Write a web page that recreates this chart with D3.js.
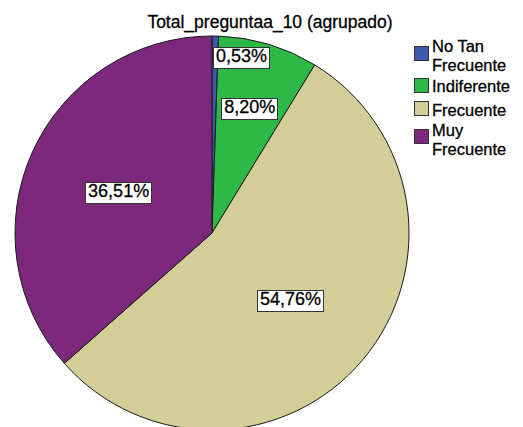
<!DOCTYPE html>
<html>
<head>
<meta charset="utf-8">
<script src="https://cdn.jsdelivr.net/npm/d3@7"></script>
<style>
  html, body { margin: 0; padding: 0; background: #fff; }
  svg { display: block; font-family: "Liberation Sans", Arial, sans-serif; }
</style>
</head>
<body>
<svg id="chart" width="523" height="427"></svg>
<script>
// Categories, percentages and colours of the pie
const categories = ["No Tan Frecuente", "Indiferente", "Frecuente", "Muy Frecuente"];
const legendLines = [["No Tan", "Frecuente"], ["Indiferente"], ["Frecuente"], ["Muy", "Frecuente"]];
const percents = [0.53, 8.20, 54.76, 36.51];
const colors = ["#3E58AC", "#2EB848", "#D3CE97", "#7C287D"];
const title = "Total_preguntaa_10 (agrupado)";

const svg = d3.select("#chart");
const cx = 212, cy = 233, radius = 197;

// Slightly heavier glyphs for all chart text
const heavy = sel => sel.attr("stroke", "#000").attr("stroke-width", 0.3);

svg.append("text")
  .attr("x", 270).attr("y", 28)
  .attr("text-anchor", "middle")
  .attr("font-size", 17.5)
  .attr("fill", "#000")
  .call(heavy)
  .text(title);

const data = categories.map((c, i) => ({ name: c, value: percents[i], color: colors[i] }));

const pie = d3.pie().value(d => d.value).sort(null);
const arcs = pie(data);
const arc = d3.arc().innerRadius(0).outerRadius(radius);

const g = svg.append("g").attr("transform", `translate(${cx},${cy})`);

g.selectAll("path.slice")
  .data(arcs)
  .enter().append("path")
  .attr("class", "slice")
  .attr("d", arc)
  .attr("fill", d => d.data.color)
  .attr("stroke", "#1a1a1a")
  .attr("stroke-width", 1);

// Labels: small slices get pushed outward, the thinnest one starts at its centroid
function labelRadius(v) {
  if (v < 2) return radius * 0.9;
  if (v < 15) return radius * 0.67;
  return radius * 0.52;
}
const fmt = v => v.toFixed(2).replace(".", ",") + "%";

arcs.forEach(d => {
  const r = labelRadius(d.data.value);
  const la = d3.arc().innerRadius(r).outerRadius(r);
  const [x, y] = la.centroid(d);
  const lg = g.append("g");
  const t = lg.append("text")
    .attr("x", d.data.value < 2 ? x + 1 : x).attr("y", y)
    .attr("dy", "0.35em")
    .attr("text-anchor", d.data.value < 2 ? "start" : "middle")
    .attr("font-size", 18)
    .attr("fill", "#000")
    .call(heavy)
    .text(fmt(d.data.value));
  const bb = t.node().getBBox();
  lg.insert("rect", "text")
    .attr("x", Math.round(bb.x - 3) + 0.5).attr("y", Math.round(bb.y + 1) + 0.5)
    .attr("width", Math.round(bb.width + 5)).attr("height", Math.round(bb.height + 1))
    .attr("fill", "#fff")
    .attr("stroke", "#333")
    .attr("stroke-width", 1);
});

// Legend: each entry is one text element, wrapped onto lines with tspans
const swatchTop = [46, 78, 101, 129];
const textBase = [52, 92, 116, 136];
const lgd = svg.append("g");
data.forEach((d, i) => {
  lgd.append("rect")
    .attr("x", 414.5).attr("y", swatchTop[i] + 0.5)
    .attr("width", 14).attr("height", 14)
    .attr("fill", d.color)
    .attr("stroke", "#333")
    .attr("stroke-width", 1);
  const txt = lgd.append("text")
    .attr("x", 432)
    .attr("y", textBase[i])
    .attr("font-size", 16.5)
    .attr("fill", "#000")
    .call(heavy);
  legendLines[i].forEach((line, j) => {
    txt.append("tspan")
      .attr("x", 432)
      .attr("dy", j === 0 ? 0 : 19)
      .text(line);
  });
});
</script>
</body>
</html>
